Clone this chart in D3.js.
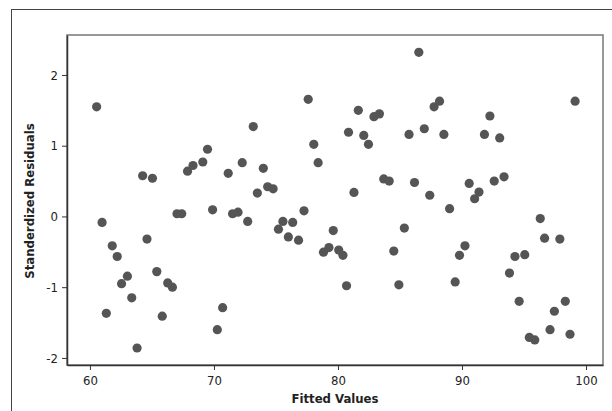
<!DOCTYPE html>
<html>
<head>
<meta charset="utf-8">
<script src="https://cdn.jsdelivr.net/npm/d3@7"></script>
<style>
  body { margin: 0; background: #fff; }
  text { font-family: "DejaVu Sans Condensed", "DejaVu Sans", sans-serif; }
</style>
</head>
<body>
<div id="viz1"></div>
<script>
// fitted values and standardized residuals
var fitted = [60.54, 60.98, 61.32, 61.8, 62.2, 62.55, 63.02, 63.37, 63.8, 64.25,
  64.6, 65.04, 65.39, 65.83, 66.27, 66.65, 67.02, 67.4, 67.87, 68.31,
  69.1, 69.48, 69.89, 70.27, 70.7, 71.15, 71.5, 71.94, 72.28, 72.72,
  73.17, 73.5, 73.98, 74.33, 74.77, 75.2, 75.56, 76.0, 76.35, 76.82,
  77.26, 77.6, 78.05, 78.4, 78.83, 79.27, 79.62, 80.06, 80.4, 80.69,
  80.85, 81.29, 81.64, 82.08, 82.46, 82.9, 83.34, 83.69, 84.13, 84.5,
  84.91, 85.35, 85.73, 86.17, 86.52, 86.96, 87.4, 87.75, 88.19, 88.54,
  89.0, 89.45, 89.8, 90.24, 90.58, 91.02, 91.37, 91.81, 92.25, 92.6,
  93.04, 93.39, 93.83, 94.27, 94.61, 95.06, 95.43, 95.87, 96.31, 96.66,
  97.1, 97.45, 97.89, 98.33, 98.71, 99.12];
var residuals = [1.55, -0.085, -1.37, -0.415, -0.566, -0.95, -0.845, -1.15, -1.86, 0.575,
  -0.32, 0.54, -0.78, -1.41, -0.94, -1.0, 0.038, 0.038, 0.64, 0.72,
  0.77, 0.95, 0.094, -1.6, -1.29, 0.61, 0.038, 0.06, 0.76, -0.07,
  1.27, 0.33, 0.68, 0.42, 0.39, -0.18, -0.07, -0.29, -0.085, -0.335,
  0.08, 1.656, 1.02, 0.76, -0.505, -0.44, -0.2, -0.476, -0.55, -0.98,
  1.19, 0.34, 1.5, 1.146, 1.02, 1.41, 1.45, 0.53, 0.5, -0.49,
  -0.967, -0.165, 1.16, 0.48, 2.32, 1.24, 0.3, 1.55, 1.63, 1.16,
  0.11, -0.925, -0.55, -0.415, 0.467, 0.25, 0.344, 1.16, 1.42, 0.5,
  1.11, 0.56, -0.8, -0.566, -1.2, -0.54, -1.71, -1.745, -0.03, -0.307,
  -1.6, -1.34, -0.32, -1.2, -1.665, 1.63];

var xTicks = [60, 70, 80, 90, 100];
var yTicks = [-2, -1, 0, 1, 2];

var data = fitted.map(function(f, i) { return {x: f, y: residuals[i]}; });

// set the dimensions
var W = 612, H = 411;
var margin = {top: 35, right: 9, bottom: 46, left: 67},
    width = W - margin.left - margin.right,
    height = H - margin.top - margin.bottom;

var root = d3.select("#viz1")
  .append("svg")
    .attr("width", W)
    .attr("height", H);

// outer frame (runs off the bottom/right of the picture)
root.append("rect")
  .attr("x", 11.5).attr("y", 9.5)
  .attr("width", 640).attr("height", 440)
  .attr("fill", "none")
  .attr("stroke", "#444")
  .attr("stroke-width", 1);

var svg = root.append("g")
  .attr("transform", "translate(" + margin.left + "," + margin.top + ")");

var x = d3.scaleLinear()
  .domain([58.15, 101.37])
  .range([0, width]);

var y = d3.scaleLinear()
  .domain([-2.10, 2.565])
  .range([height, 0]);

// plot border
svg.append("rect")
  .attr("x", 0).attr("y", 0)
  .attr("width", width).attr("height", height)
  .attr("fill", "none")
  .attr("stroke", "#777")
  .attr("stroke-width", 1.5);

// x axis
var gx = svg.append("g")
  .attr("transform", "translate(0," + height + ")")
  .call(d3.axisBottom(x).tickValues(xTicks).tickSize(5).tickSizeOuter(0)
    .tickFormat(function(d) { return String(d); }));

// y axis
var gy = svg.append("g")
  .call(d3.axisLeft(y).tickValues(yTicks).tickSize(5).tickSizeOuter(0)
    .tickFormat(function(d) { return String(d); }));

[gx, gy].forEach(function(g) {
  g.select(".domain").attr("stroke", "#333").attr("stroke-width", 1.5);
  g.selectAll(".tick line").attr("stroke", "#333");
  g.selectAll(".tick text")
    .attr("fill", "#222")
    .style("font-size", "13px")
    .style("font-family", '"DejaVu Sans Condensed", "DejaVu Sans", sans-serif');
});
gx.selectAll(".tick text").attr("dy", "0.95em");
gy.selectAll(".tick text").attr("dx", "-1px");

// axis titles
root.append("text")
  .attr("x", 335)
  .attr("y", 403)
  .attr("text-anchor", "middle")
  .attr("font-weight", "bold")
  .attr("font-size", "13px")
  .attr("fill", "#222")
  .text("Fitted Values");

root.append("text")
  .attr("transform", "translate(34,201) rotate(-90)")
  .attr("text-anchor", "middle")
  .attr("font-weight", "bold")
  .attr("font-size", "13px")
  .attr("fill", "#222")
  .text("Standerdized Residuals");

// points
svg.append("g")
  .selectAll("circle")
  .data(data)
  .enter()
  .append("circle")
    .attr("cx", function(d) { return x(d.x); })
    .attr("cy", function(d) { return y(d.y); })
    .attr("r", 4.6)
    .attr("fill", "#555");
</script>
</body>
</html>
